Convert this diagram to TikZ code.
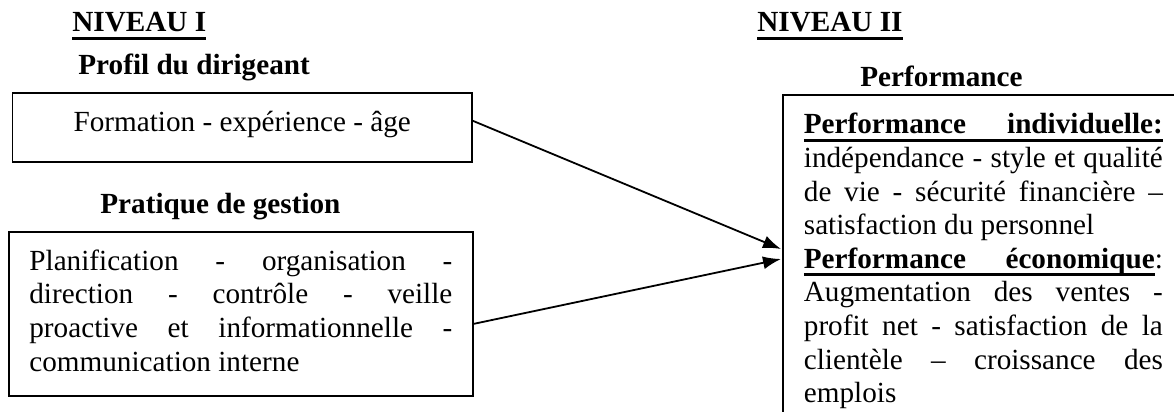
\documentclass[tikz,border=0pt]{standalone}
\usepackage{fontspec}
\setmainfont{Liberation Serif}
\usetikzlibrary{arrows.meta}
\newcommand\souligne[1]{\setbox0=\hbox{#1}\leavevmode\rlap{\vrule height -2.3pt depth 3.8pt width \wd0}\box0}
\tikzset{
	boite/.style={draw, line width=0.9pt, inner sep=0pt, font=\fontsize{14.6}{16.8}\selectfont},
	titre/.style={anchor=base west, inner sep=0pt, font=\fontsize{14.6}{16.8}\selectfont\bfseries},
	fleche/.style={line width=0.9pt, -{Latex[length=9pt,width=6.5pt]}}
}

\begin{document}
\begin{tikzpicture}[x=0.5pt, y=-0.5pt]
			%%%%% START %%%%%
			\useasboundingbox (0, 0) rectangle (1174, 412);
			
			\node[titre] (niv1) at (72, 32) {\souligne{NIVEAU I}};
			\node[titre] (niv2) at (757, 32) {\souligne{NIVEAU II}};
			
			\node[titre] (titreprofil) at (78, 75) {Profil du dirigeant};
			\node[titre] (titregestion) at (100, 213) {Pratique de gestion};
			\node[titre] (titreperf) at (860, 86) {Performance};
			
			\node[boite, minimum width=229.7pt, minimum height=34.5pt, text depth=8.5pt] (profil) at (242.2, 127.8) {\strut Formation - expérience - âge};
			
			\node[boite, anchor=north west, text width=211.5pt, align=justify, inner xsep=10.1pt, minimum height=82pt] (gestion) at (8.3, 231)
				{\strut Planification - organisation -\linebreak direction - contrôle - veille\linebreak proactive et informationnelle -\linebreak communication interne\strut};
			
			\node[boite, anchor=north west, text width=179.5pt, align=justify, inner xsep=10.5pt, inner ysep=7.75pt] (perf) at (782, 94)
				{\noindent\strut\souligne{\makebox[\linewidth][s]{\bfseries Performance individuelle:}}\linebreak
				indépendance - style et qualité\linebreak de vie - sécurité financière –\linebreak satisfaction du personnel\par
				\noindent\makebox[\linewidth][s]{\souligne{\makebox[\dimexpr\linewidth-\fontcharwd\font`:\relax][s]{\bfseries Performance économique}}:}\linebreak
				Augmentation des ventes -\linebreak profit net - satisfaction de la\linebreak clientèle – croissance des\linebreak emplois\strut};
			
			\coordinate (entree1) at (781, 249);
			\coordinate (entree2) at (781, 259);
			
			\draw[fleche] ([yshift=3.5pt]profil.east) -- (entree1);
			\draw[fleche] ([yshift=-5pt]gestion.east) -- (entree2);
			%%%%% END %%%%%
\end{tikzpicture}
\end{document}
